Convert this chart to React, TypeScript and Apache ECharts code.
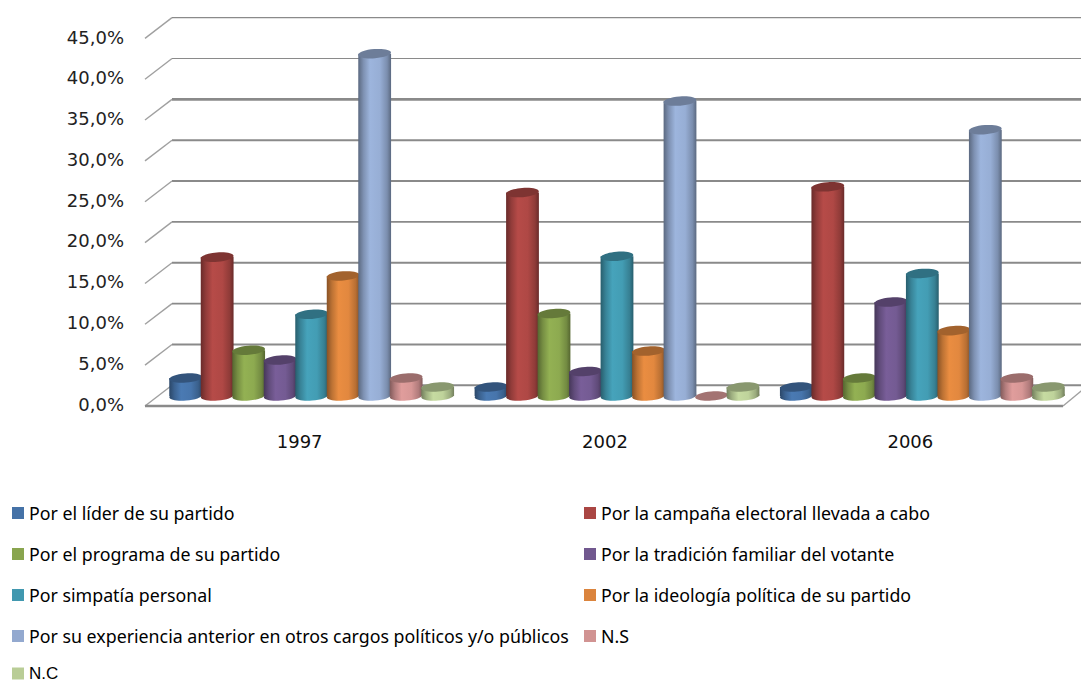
import React, { useEffect, useRef } from "react";
import * as echarts from "echarts";

const years = ["1997", "2002", "2006"];
const valueTicks = [0, 5, 10, 15, 20, 25, 30, 35, 40, 45];

const names = [
  "Por el líder de su partido",
  "Por la campaña electoral llevada a cabo",
  "Por el programa de su partido",
  "Por la tradición familiar del votante",
  "Por simpatía personal",
  "Por la ideología política de su partido",
  "Por su experiencia anterior en otros cargos políticos y/o públicos",
  "N.S",
  "N.C",
];

const lider = [2.2, 1.1, 1.1];
const campana = [17.0, 24.9, 25.6];
const programa = [5.6, 10.1, 2.2];
const tradicion = [4.4, 3.0, 11.5];
const simpatia = [10.0, 17.1, 15.0];
const ideologia = [14.7, 5.5, 8.0];
const experiencia = [41.9, 36.1, 32.6];
const ns = [2.2, 0, 2.2];
const nc = [1.1, 1.1, 1.1];
const seriesValues = [lider, campana, programa, tradicion, simpatia, ideologia, experiencia, ns, nc];

const colors = ["#4572a7", "#aa4643", "#89a54e", "#71588f", "#4198af", "#db843d", "#93a9cf", "#d19392", "#b9cd96"];

// Scales a hex colour by a factor, used for the cylinder shading.
function shade(hex: string, k: number): string {
  const n = parseInt(hex.slice(1), 16);
  const c = [(n >> 16) & 255, (n >> 8) & 255, n & 255].map((v) =>
    Math.max(0, Math.min(255, Math.round(v * k)))
  );
  return `rgb(${c[0]},${c[1]},${c[2]})`;
}

function bodyFill(hex: string) {
  return new echarts.graphic.LinearGradient(0, 0, 1, 0, [
    { offset: 0, color: shade(hex, 0.62) },
    { offset: 0.16, color: shade(hex, 0.86) },
    { offset: 0.36, color: shade(hex, 1.07) },
    { offset: 0.66, color: shade(hex, 1.03) },
    { offset: 0.88, color: shade(hex, 0.84) },
    { offset: 1, color: shade(hex, 0.62) },
  ]);
}

const BAR_STEP = 31.5;
const RX = 16.4;
const RY = 4.6;
const TILT = 0.08;
const GROUP_SHIFT = 12;

// One cylinder per data point; position comes from the category and value scales.
function cylinder(seriesIndex: number) {
  return (_params: any, api: any) => {
    const cat = api.value(0);
    const val = api.value(1);
    const top = api.coord([cat, val]);
    const base = api.coord([cat, 0]);
    const cx = top[0] + GROUP_SHIFT + (seriesIndex - 4) * BAR_STEP;
    const hex = colors[seriesIndex];
    const ellipse = (y: number, fill: any) => ({
      type: "ellipse",
      x: cx,
      y,
      rotation: TILT,
      shape: { cx: 0, cy: 0, rx: RX, ry: RY },
      style: { fill },
    });
    if (val === 0) {
      return { type: "group", children: [ellipse(base[1], shade(hex, 0.78))] };
    }
    return {
      type: "group",
      children: [
        ellipse(base[1], bodyFill(hex)),
        {
          type: "rect",
          shape: { x: cx - RX, y: top[1], width: RX * 2, height: base[1] - top[1] },
          style: { fill: bodyFill(hex) },
        },
        ellipse(top[1], shade(hex, 0.74)),
      ],
    };
  };
}

const BACK_DX = 25;
const BACK_DY = -10.7;
const FRONT_DY = 10;
const FRONT_PAD = 2;
const wallColor = "#8a8a8a";

// Gridlines on the back wall with their short diagonal runs down the side wall.
function wallLine(_params: any, api: any) {
  const v = api.value(0);
  const left = api.coord([0, v]);
  const size = api.size([1, 0]);
  const xl = left[0] - size[0] / 2;
  const xr = xl + size[0] * 3;
  const yBack = left[1] + BACK_DY;
  const yFront = left[1] + FRONT_DY;
  const width = v === 45 || v === 40 ? 1.2 : v === 35 ? 2.6 : 1.9;
  const children: any[] = [
    {
      type: "line",
      shape: { x1: xl + BACK_DX, y1: yBack, x2: xr + BACK_DX, y2: yBack },
      style: { stroke: wallColor, lineWidth: width },
    },
    {
      type: "line",
      shape: { x1: xl - FRONT_PAD, y1: yFront, x2: xl + BACK_DX, y2: yBack },
      style: { stroke: "#a0a0a0", lineWidth: 1.4 },
    },
  ];
  if (v === 0) {
    children.push(
      {
        type: "line",
        shape: { x1: xl - FRONT_PAD, y1: yFront, x2: xr, y2: yFront },
        style: { stroke: wallColor, lineWidth: 2.6 },
      },
      {
        type: "line",
        shape: { x1: xr, y1: yFront, x2: xr + BACK_DX, y2: yBack },
        style: { stroke: "#a0a0a0", lineWidth: 1.4 },
      }
    );
  }
  return { type: "group", children };
}

const axisFont = "DejaVu Sans";
const legendFont = "Noto Sans";
const lastRowFont = "Liberation Sans";

export default function App() {
  const ref = useRef<HTMLDivElement>(null);
  useEffect(() => {
    const chart = echarts.init(ref.current!, null, { renderer: "svg" });
    const legendText = { fontFamily: legendFont, fontSize: 17.8, color: "#000" };
    const legendBase = {
      top: 504,
      height: 170,
      padding: 0,
      orient: "vertical",
      itemGap: 23,
      itemWidth: 12,
      itemHeight: 12,
      icon: "rect",
      textStyle: legendText,
    };
    chart.setOption({
      animation: false,
      backgroundColor: "#fff",
      grid: [
        { left: 147, right: 18, top: 28.35, bottom: 288 },
        { left: 147, right: 18, top: 37, bottom: 280 },
      ],
      xAxis: [
        {
          type: "category",
          gridIndex: 0,
          data: years,
          axisLine: { show: false },
          axisTick: { show: false },
          axisLabel: { margin: 36, fontFamily: axisFont, fontSize: 18, color: "#111" },
        },
        { type: "category", gridIndex: 1, data: years, show: false },
      ],
      yAxis: [
        { type: "value", gridIndex: 0, min: 0, max: 45, interval: 5, show: false },
        {
          type: "value",
          gridIndex: 1,
          min: 0,
          max: 45,
          interval: 5,
          axisLine: { show: false },
          axisTick: { show: false },
          splitLine: { show: false },
          axisLabel: {
            margin: 23,
            fontFamily: axisFont,
            fontSize: 18,
            color: "#222",
            formatter: (v: number) => v.toFixed(1).replace(".", ",") + "%",
          },
        },
      ],
      legend: [
        { ...legendBase, left: 12, data: names.filter((_, i) => i % 2 === 0 && i < 8) },
        { ...legendBase, left: 584, data: names.filter((_, i) => i % 2 === 1) },
        // The last entry uses a font with a shorter line box so it stays inside the page.
        {
          ...legendBase,
          left: 12,
          top: 665,
          height: 19,
          textStyle: { ...legendText, fontFamily: lastRowFont, fontSize: 17 },
          data: [names[8]],
        },
      ],
      series: [
        {
          type: "custom",
          name: "paredes",
          coordinateSystem: "cartesian2d",
          xAxisIndex: 0,
          yAxisIndex: 0,
          clip: false,
          silent: true,
          data: valueTicks.map((t) => [t]),
          encode: { y: 0 },
          renderItem: wallLine,
        },
        ...names.map((name, i) => ({
          type: "custom",
          name,
          coordinateSystem: "cartesian2d",
          xAxisIndex: 0,
          yAxisIndex: 0,
          clip: false,
          itemStyle: { color: colors[i] },
          data: seriesValues[i].map((v, c) => [c, v]),
          encode: { x: 0, y: 1 },
          renderItem: cylinder(i),
        })),
      ],
    });
    return () => chart.dispose();
  }, []);
  return <div ref={ref} style={{ position: "absolute", left: 0, top: 0, width: 1081, height: 684 }} />;
}
